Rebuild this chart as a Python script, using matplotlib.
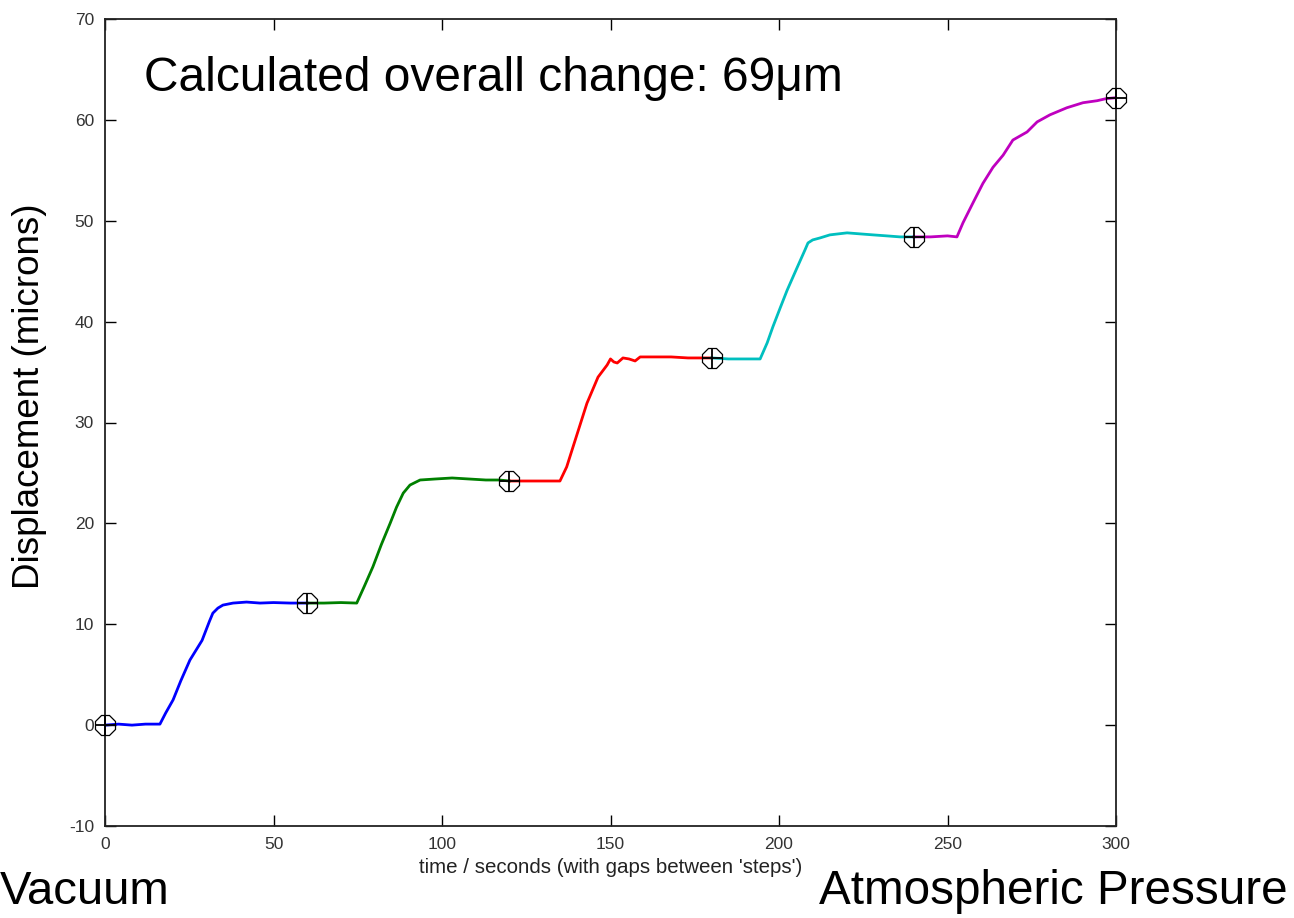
import matplotlib
matplotlib.use("Agg")
import matplotlib.pyplot as plt

# ---- data ----
t_blue = [0, 4, 8, 12, 16.3, 18, 20.2, 22.5, 25.2, 28.8, 31, 32, 33.5, 35, 38, 42, 46, 50, 55, 60]
v_blue = [0.0, 0.1, 0.0, 0.1, 0.1, 1.2, 2.5, 4.4, 6.45, 8.4, 10.3, 11.1, 11.6, 11.9, 12.1, 12.2, 12.1, 12.15, 12.1, 12.1]

t_green = [60, 65, 70, 74.7, 77, 79.5, 82, 84.6, 86.5, 88.5, 90.5, 93.5, 98, 103, 108, 113, 117, 120]
v_green = [12.1, 12.1, 12.15, 12.1, 13.8, 15.7, 17.9, 20.0, 21.6, 23.0, 23.8, 24.3, 24.4, 24.5, 24.4, 24.3, 24.3, 24.2]

t_red = [120, 125, 130, 135, 137, 138.9, 141, 143, 146.3, 149, 150, 151, 152, 153.7, 155.5, 157.3, 158.8, 163, 168, 173, 177, 180]
v_red = [24.2, 24.2, 24.2, 24.2, 25.6, 27.6, 29.8, 31.9, 34.5, 35.7, 36.3, 36.0, 35.9, 36.4, 36.3, 36.1, 36.5, 36.5, 36.5, 36.4, 36.4, 36.4]

t_cyan = [180, 185, 190, 194.4, 196.5, 198.2, 200.4, 202.4, 205.3, 207.7, 208.6, 210, 212.2, 215.1, 220.2, 224, 227.9, 232, 235.9, 240]
v_cyan = [36.4, 36.3, 36.3, 36.3, 37.9, 39.5, 41.4, 43.1, 45.3, 47.1, 47.8, 48.1, 48.3, 48.6, 48.8, 48.7, 48.6, 48.5, 48.4, 48.4]

t_mag = [240, 245, 250, 252.8, 254.6, 257.6, 260.5, 263.5, 266.5, 269.4, 273.6, 276.6, 280.4, 285.4, 290.2, 294.4, 297, 300]
v_mag = [48.4, 48.4, 48.5, 48.4, 49.8, 51.8, 53.7, 55.3, 56.5, 58.0, 58.8, 59.8, 60.5, 61.2, 61.7, 61.9, 62.1, 62.2]

marker_t = [0, 60, 120, 180, 240, 300]
marker_v = [0.0, 12.1, 24.2, 36.4, 48.4, 62.2]

x_ticks = [0, 50, 100, 150, 200, 250, 300]
y_ticks = [-10, 0, 10, 20, 30, 40, 50, 60, 70]

segments = [
    (t_blue, v_blue, "#0000ff"),
    (t_green, v_green, "#008000"),
    (t_red, v_red, "#ff0000"),
    (t_cyan, v_cyan, "#00bfbf"),
    (t_mag, v_mag, "#bf00bf"),
]

plt.rcParams["font.family"] = ["Liberation Sans", "DejaVu Sans"]
plt.rcParams["axes.unicode_minus"] = False

fig = plt.figure(figsize=(12.94, 9.18), dpi=100)
ax = fig.add_axes([105 / 1294, 1 - 826 / 918, (1116 - 105) / 1294, (826 - 19) / 918])

for t, v, c in segments:
    ax.plot(t, v, color=c, lw=2.0, solid_joinstyle="round", zorder=2)

ax.plot(marker_t, marker_v, ls="none", marker="8", ms=15, mfc="none",
        mec="black", mew=0.9, zorder=3, clip_on=False)
ax.plot(marker_t, marker_v, ls="none", marker="+", ms=15,
        mec="black", mew=1.3, zorder=3, clip_on=False)

ax.set_xlim(0, 300)
ax.set_ylim(-10, 70)
ax.set_xticks(x_ticks)
ax.set_yticks(y_ticks)
ax.tick_params(direction="in", length=8, width=1, top=True, right=True,
               labelsize=12.5, labelcolor="#333333", pad=8)
for s in ax.spines.values():
    s.set_linewidth(1.3)
    s.set_color("#222222")

ax.set_xlabel("time / seconds (with gaps between 'steps')", fontsize=14.8,
              color="#222222", labelpad=4)
ax.set_ylabel("Displacement (microns)", fontsize=26.5)
ax.yaxis.set_label_coords(-0.057, 0.532)

ax.text(0.039, 0.926, "Calculated overall change: 69\u03bcm", transform=ax.transAxes,
        fontsize=34.5, va="center", ha="left")

fig.text(0 / 1294, 1 - 892 / 918, "Vacuum", fontsize=34, ha="left", va="center")
fig.text(1288 / 1294, 1 - 892 / 918, "Atmospheric Pressure", fontsize=34.3,
         ha="right", va="center")

fig.savefig("out.png", dpi=100)
